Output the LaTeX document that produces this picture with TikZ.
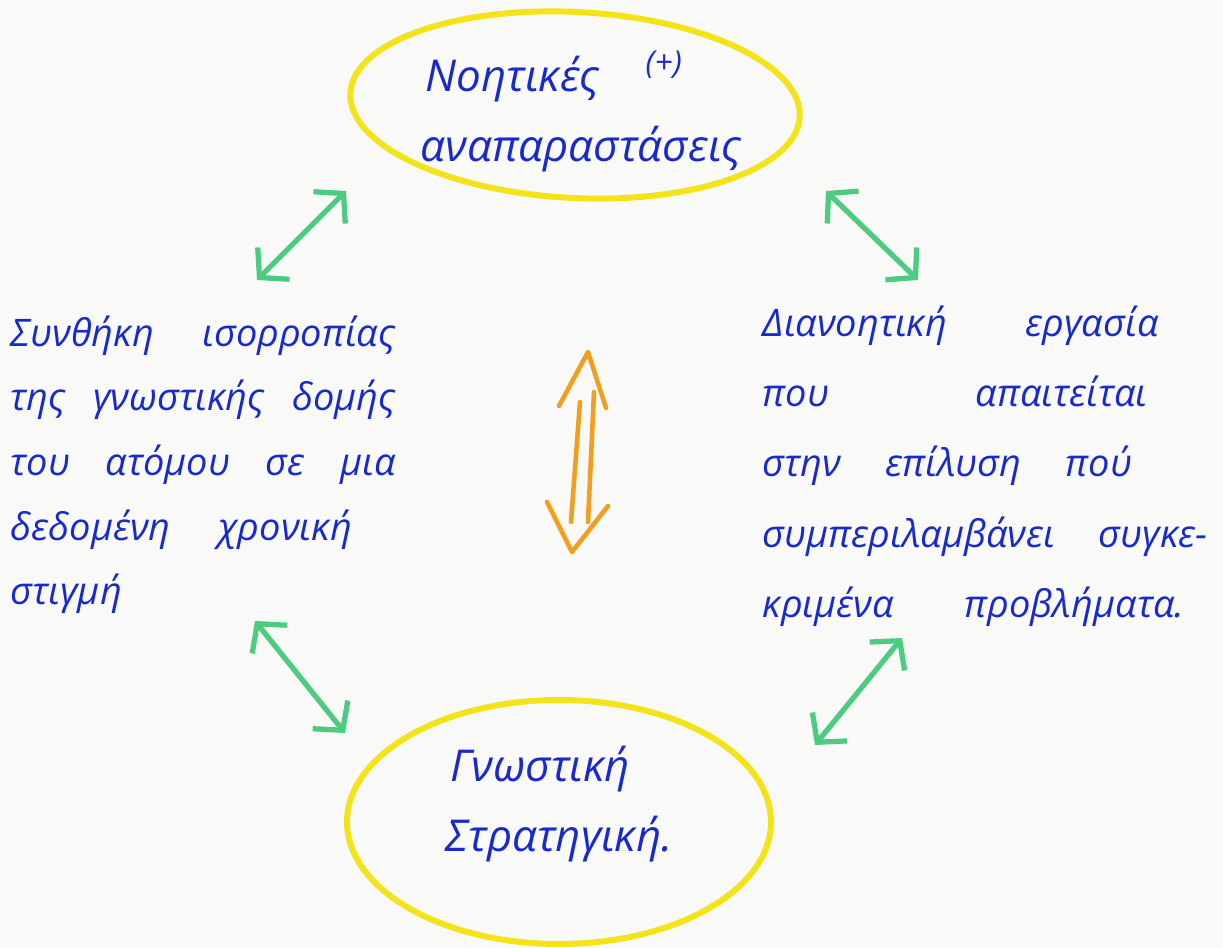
\documentclass[tikz,border=0pt]{standalone}
\usepackage{fontspec}
\setmainfont{Open Sans}
\usepackage{xcolor}
\definecolor{penblue}{rgb}{0.10,0.16,0.80}
\definecolor{penyellow}{rgb}{0.96,0.89,0.10}
\definecolor{pengreen}{rgb}{0.30,0.80,0.50}
\definecolor{penorange}{rgb}{0.95,0.62,0.12}
\definecolor{paper}{rgb}{0.975,0.975,0.97}
\usepackage{tikz}
\usetikzlibrary{arrows.meta, positioning}

\begin{document}
\begin{tikzpicture}[
	hand/.style={text=penblue, font=\fontsize{12.5}{20}\selectfont\itshape, inner sep=0pt, anchor=north west},
	block/.style={hand, align=left, font=\fontsize{10.8}{18.4}\selectfont\itshape},
	link/.style={{Straight Barb[length=2mm,width=4.5mm]}-{Straight Barb[length=2mm,width=4.5mm]},
	             draw=pengreen, line width=1.5pt, line cap=round},
	swap/.style={draw=penorange, line width=1.3pt, line cap=round, line join=round}
	]
\fill[paper] (0,0) rectangle (12.23,-9.48);
\useasboundingbox (0,0) rectangle (12.23,-9.48);

% yellow bubbles
\draw[penyellow, line width=1.7pt, rotate around={-3:(5.75,-1.05)}] (5.75,-1.05) ellipse [x radius=2.25cm, y radius=0.93cm];
\draw[penyellow, line width=1.7pt] (5.59,-8.22) ellipse [x radius=2.12cm, y radius=1.22cm];

% texts
\node[hand] (rep1) at (4.25,-0.55) {Νοητικές};
\node[hand, font=\fontsize{9}{10}\selectfont\itshape] (plus) at (6.45,-0.50) {(+)};
\node[hand] (rep2) at (4.20,-1.25) {αναπαραστάσεις};

\node[block, text width=3.85cm] (cond) at (0.10,-3.15) {Συνθήκη \hfill ισορροπίας\\
της \hfill γνωστικής \hfill δομής\\
του \hfill ατόμου \hfill σε \hfill μια\\
δεδομένη \hspace{0.6em} χρονική\\
στιγμή};

\node[block, text width=4.45cm, font=\fontsize{10.8}{20}\selectfont\itshape] (work) at (7.62,-3.05) {Διανοητική \hspace{1.4em} εργασία\\
που \hspace{3.2em} απαιτείται\\
στην \hspace{0.5em} επίλυση \hspace{0.5em} πού\\
συμπεριλαμβάνει \hfill συγκε-\\
κριμένα \hspace{1.2em} προβλήματα.};

\node[hand] (cog1) at (4.50,-7.45) {Γνωστική};
\node[hand] (cog2) at (4.45,-8.15) {Στρατηγική.};

% green links
\coordinate (l1a) at (2.57,-2.80);
\coordinate (l1b) at (3.46,-1.91);
\coordinate (l2a) at (8.26,-1.91);
\coordinate (l2b) at (9.18,-2.80);
\coordinate (l3a) at (2.55,-6.21);
\coordinate (l3b) at (3.45,-7.33);
\coordinate (l4a) at (9.02,-6.38);
\coordinate (l4b) at (8.15,-7.45);
\draw[link] (l1a) -- (l1b);
\draw[link] (l2a) -- (l2b);
\draw[link] (l3a) -- (l3b);
\draw[link] (l4a) -- (l4b);

% orange double arrow
\draw[swap] (5.59,-4.06) -- (5.88,-3.52) -- (6.06,-4.08);
\draw[swap] (5.80,-4.02) -- (5.71,-5.22);
\draw[swap] (5.94,-3.92) -- (5.88,-5.22);
\draw[swap] (5.47,-5.02) -- (5.72,-5.52) -- (6.08,-5.06);
\end{tikzpicture}
\end{document}
